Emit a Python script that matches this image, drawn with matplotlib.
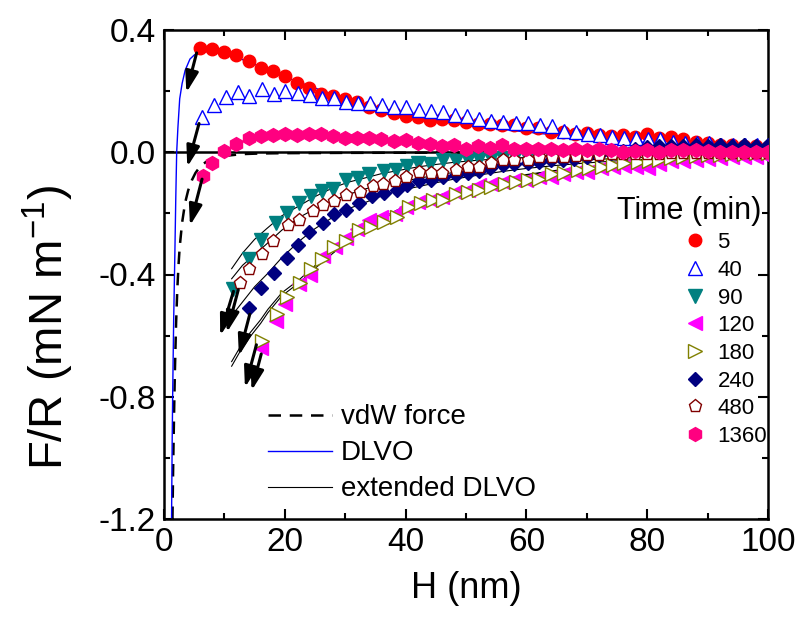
import matplotlib
matplotlib.use("Agg")
import matplotlib.pyplot as plt
from matplotlib.lines import Line2D
from matplotlib.ticker import MultipleLocator, FormatStrFormatter

plt.rcParams['font.family'] = ['Liberation Sans', 'DejaVu Sans']
plt.rcParams['mathtext.fontset'] = 'custom'
plt.rcParams['mathtext.rm'] = 'Liberation Sans'
plt.rcParams['mathtext.it'] = 'Liberation Sans:italic'
plt.rcParams['axes.unicode_minus'] = False

# ---------------- measured force curves (H in nm, F/R in mN/m) ----------------
times = ['5', '40', '90', '120', '180', '240', '480', '1360']

h_5 = [6, 8, 10, 12, 14, 16, 18, 20, 22, 24, 26, 28, 30, 32, 34, 36, 38, 40, 42, 44,
       46, 48, 50, 52, 54, 56, 58, 60, 62, 64, 66, 68, 70, 72, 74, 76, 78, 80, 82, 84,
       86, 88, 90, 92, 94, 96, 98, 100]
f_5 = [0.340, 0.339, 0.329, 0.318, 0.298, 0.276, 0.266, 0.249, 0.227, 0.209, 0.192,
       0.184, 0.173, 0.165, 0.149, 0.138, 0.127, 0.118, 0.116, 0.107, 0.110, 0.105,
       0.099, 0.094, 0.094, 0.089, 0.089, 0.080, 0.078, 0.067, 0.066, 0.061, 0.063,
       0.056, 0.052, 0.056, 0.050, 0.059, 0.045, 0.050, 0.042, 0.034, 0.030, 0.023,
       0.023, 0.020, 0.020, 0.018]

h_40 = [6.3, 8.3, 10.2, 12.2, 14.1, 16.2, 18.2, 20.1, 22.2, 24.2, 26.2, 28.1, 30.1,
        32.1, 34.1, 36.1, 38.1, 40.1, 42.2, 44.2, 46.2, 48.2, 50.2, 52.2, 54.2, 56.2,
        58.2, 60.2, 62.2, 64.2, 66.2, 68.2, 70.2, 72.2, 74.2, 76.2, 78.2, 80.2, 82.2,
        84.2, 86.2, 88.2, 90.2, 92.2, 94.2, 96.2, 98.2, 100]
f_40 = [0.116, 0.154, 0.181, 0.198, 0.184, 0.206, 0.190, 0.201, 0.194, 0.187, 0.176,
        0.176, 0.165, 0.162, 0.160, 0.154, 0.149, 0.147, 0.138, 0.135, 0.132, 0.121,
        0.118, 0.110, 0.103, 0.099, 0.096, 0.096, 0.089, 0.085, 0.070, 0.067, 0.061,
        0.056, 0.050, 0.045, 0.045, 0.042, 0.042, 0.034, 0.029, 0.029, 0.029, 0.023,
        0.023, 0.023, 0.023, 0.021]

h_90 = [11.5, 14, 16, 18.5, 20.3, 22.4, 24.3, 26.2, 28, 30.2, 32.1, 34, 36.5, 38.4,
        40.3, 42.1, 44.1, 46.2, 48.3, 50.3, 52.2, 54.1, 56.1, 58.1, 60.1, 62, 64, 66,
        68, 70, 72, 74, 76, 78, 80, 82, 84, 86, 88, 90, 92, 94, 96, 98, 100]
f_90 = [-0.447, -0.349, -0.287, -0.230, -0.200, -0.167, -0.144, -0.127, -0.119, -0.090,
        -0.083, -0.072, -0.061, -0.057, -0.046, -0.035, -0.037, -0.026, -0.028, -0.024,
        -0.022, -0.021, -0.018, -0.016, -0.014, -0.013, -0.012, -0.011, -0.010, -0.010,
        -0.009, -0.008, -0.008, -0.007, -0.007, -0.006, -0.006, -0.005, -0.005, -0.005,
        -0.004, -0.004, -0.004, -0.003, -0.003]

h_120 = [16.1, 18.5, 20.1, 22.4, 24.2, 26.4, 28.3, 30.2, 31.9, 34, 36, 38.2, 40, 42,
         44.2, 46, 48.1, 50.3, 52.2, 54.2, 56.1, 58, 60, 62.1, 64.1, 66, 68.2, 70.1,
         72.3, 74.3, 76.2, 78.2, 80.2, 82, 84, 86, 88, 90, 92, 94, 96, 98, 100]
f_120 = [-0.642, -0.551, -0.497, -0.432, -0.403, -0.338, -0.310, -0.280, -0.250, -0.223,
         -0.212, -0.201, -0.179, -0.164, -0.155, -0.146, -0.130, -0.125, -0.108, -0.103,
         -0.097, -0.090, -0.090, -0.081, -0.081, -0.070, -0.065, -0.065, -0.050, -0.047,
         -0.045, -0.048, -0.050, -0.040, -0.030, -0.030, -0.026, -0.022, -0.020, -0.017,
         -0.016, -0.015, -0.014]

h_180 = [16.3, 18.7, 20.4, 22.5, 24.4, 26.1, 28.1, 30.2, 32.3, 34.3, 36.4, 38.5, 40.5,
         42.6, 44.5, 46.2, 48.4, 50.3, 52.2, 54.2, 56.4, 58.3, 60.2, 62.1, 64.3, 66.3,
         68.5, 70.4, 72.5, 74.3, 76.2, 78.4, 80.3, 82, 84, 86, 88, 90, 92, 94, 96, 98, 100]
f_180 = [-0.616, -0.529, -0.473, -0.429, -0.381, -0.349, -0.310, -0.289, -0.254, -0.245,
         -0.228, -0.212, -0.178, -0.166, -0.157, -0.157, -0.136, -0.130, -0.125, -0.114,
         -0.103, -0.097, -0.090, -0.086, -0.070, -0.068, -0.057, -0.053, -0.048, -0.043,
         -0.035, -0.032, -0.028, -0.025, -0.020, -0.015, -0.013, -0.010, -0.008, -0.006,
         -0.005, -0.004, -0.003]

h_240 = [14.1, 16, 18.2, 20.3, 22.2, 24, 26.3, 28.1, 30.1, 32.3, 34.5, 36.5, 38.5, 40.3,
         42.3, 44.2, 46.2, 48.3, 50.3, 52.1, 54, 56.1, 58, 60.2, 62.1, 64.1, 66, 67.9,
         70, 72, 74, 76, 78, 80, 82, 84, 86, 88, 90, 92, 94, 96, 98, 100]
f_240 = [-0.511, -0.445, -0.396, -0.345, -0.302, -0.261, -0.232, -0.203, -0.188, -0.166,
         -0.144, -0.133, -0.122, -0.108, -0.094, -0.090, -0.081, -0.075, -0.068, -0.060,
         -0.053, -0.043, -0.037, -0.035, -0.032, -0.026, -0.024, -0.021, -0.015, -0.010,
         -0.003, 0.005, 0.012, 0.018, 0.020, 0.022, 0.020, 0.023, 0.021, 0.023, 0.022,
         0.023, 0.022, 0.023]

h_480 = [12.6, 14.1, 16.3, 18.1, 20.5, 22.3, 24.6, 26.3, 28.1, 30.1, 32.4, 34.6, 36.3,
         38.2, 40.1, 42.2, 44.2, 46.1, 48.3, 50.3, 52.1, 54.2, 56.1, 58, 60.2, 62.1, 64.3,
         66.3, 68.2, 70.1, 72.1, 74.2, 76, 78, 80, 82, 84, 86, 88, 90, 92, 94, 96, 98, 100]
f_480 = [-0.427, -0.381, -0.332, -0.291, -0.239, -0.223, -0.192, -0.174, -0.161, -0.141,
         -0.130, -0.111, -0.103, -0.094, -0.080, -0.066, -0.068, -0.067, -0.057, -0.048,
         -0.048, -0.035, -0.024, -0.024, -0.024, -0.017, -0.017, -0.015, -0.012, -0.010,
         -0.008, -0.006, -0.006, -0.005, -0.006, -0.005, -0.004, -0.004, -0.003, -0.004,
         -0.003, -0.003, -0.002, -0.002, -0.002]

h_1360 = [6.5, 8, 10, 12, 14, 16, 18, 20, 22, 24, 26, 28, 30, 32, 34, 36, 38, 40, 42, 44,
          46, 48, 50, 52, 54, 56, 58, 60, 62, 64, 66, 68, 70, 72, 74, 76, 78, 80, 82, 84,
          86, 88, 90, 92, 94, 96, 98, 100]
f_1360 = [-0.077, -0.035, 0.004, 0.026, 0.048, 0.052, 0.056, 0.061, 0.056, 0.061, 0.059,
          0.052, 0.047, 0.048, 0.048, 0.042, 0.037, 0.039, 0.030, 0.026, 0.020, 0.023,
          0.012, 0.020, 0.015, 0.023, 0.009, 0.009, 0.012, 0.012, 0.007, 0.009, 0.007,
          0.012, 0.007, 0.001, 0.004, 0.007, 0.001, 0.007, 0.007, 0.007, 0.004, 0.001,
          0.001, 0.001, 0.001, 0.000]

# ---------------- model curves ----------------
h_vdw = [1.4, 1.5, 1.6, 1.7, 1.8, 2.0, 2.2, 2.4, 2.6, 3.0, 3.5, 4.0, 4.6, 5.2, 6.0, 7.0,
         8.0, 10, 13, 16, 20, 30, 50, 100]
f_vdw = [-1.2, -1.05, -0.93, -0.82, -0.72, -0.56, -0.45, -0.37, -0.31, -0.23, -0.165,
         -0.125, -0.092, -0.068, -0.046, -0.031, -0.022, -0.012, -0.006, -0.004, -0.003,
         -0.002, -0.001, 0.0]

h_dlvo = [1.25, 1.35, 1.45, 1.6, 1.8, 1.95, 2.1, 2.3, 2.6, 3.0, 3.5, 4.3, 5.0, 5.7, 7.0,
          8.5, 10, 12.5, 16, 19, 22, 25, 28, 31, 35, 40, 45, 50, 56, 62, 68, 74, 80, 88, 100]
f_dlvo = [-1.2, -0.95, -0.77, -0.55, -0.33, -0.15, 0.0, 0.08, 0.175, 0.225, 0.268, 0.305,
          0.318, 0.324, 0.329, 0.327, 0.320, 0.307, 0.280, 0.255, 0.232, 0.210, 0.189,
          0.170, 0.149, 0.126, 0.107, 0.092, 0.075, 0.062, 0.050, 0.040, 0.032, 0.024, 0.017]

h_ext = [11.2, 13, 15, 17, 19.5, 22.5, 25, 28, 30.5, 33.5, 36, 39, 42, 45, 48, 52, 56,
         60, 65, 70, 75, 80, 90, 100]
f_ext_90 = [-0.381, -0.330, -0.285, -0.250, -0.208, -0.174, -0.145, -0.116, -0.098,
            -0.083, -0.070, -0.059, -0.048, -0.040, -0.033, -0.026, -0.021, -0.017,
            -0.013, -0.010, -0.008, -0.006, -0.004, -0.003]
f_ext_480 = [-0.414, -0.370, -0.335, -0.300, -0.255, -0.212, -0.185, -0.157, -0.138,
             -0.119, -0.107, -0.097, -0.086, -0.075, -0.066, -0.055, -0.046, -0.039,
             -0.031, -0.025, -0.020, -0.016, -0.011, -0.008]
f_ext_240 = [-0.535, -0.490, -0.440, -0.400, -0.345, -0.289, -0.250, -0.212, -0.185,
             -0.163, -0.143, -0.125, -0.113, -0.100, -0.088, -0.075, -0.063, -0.053,
             -0.043, -0.035, -0.028, -0.023, -0.015, -0.010]

h_ext2 = [11.2, 12.5, 14.2, 16, 17.2, 19.5, 22.5, 25, 28, 30.5, 33.5, 36, 39, 42, 44.5,
          47, 50, 55, 60, 65, 70, 75, 80, 85, 90, 95, 100]
f_ext_120 = [-0.700, -0.655, -0.605, -0.560, -0.525, -0.470, -0.425, -0.380, -0.330,
             -0.290, -0.250, -0.220, -0.190, -0.165, -0.150, -0.135, -0.120, -0.095,
             -0.075, -0.060, -0.050, -0.040, -0.032, -0.025, -0.019, -0.014, -0.010]
f_ext_180 = [-0.685, -0.641, -0.592, -0.548, -0.514, -0.460, -0.415, -0.371, -0.322,
             -0.283, -0.244, -0.215, -0.185, -0.161, -0.146, -0.132, -0.117, -0.093,
             -0.073, -0.059, -0.049, -0.039, -0.031, -0.024, -0.018, -0.013, -0.009]

# jump-in arrows: (H start, F start, H end, F end)
jumps = [(5.4, 0.325, 3.7, 0.195),
         (5.8, 0.094, 3.85, -0.048),
         (6.3, -0.088, 4.3, -0.24),
         (11.5, -0.455, 9.3, -0.60),
         (12.3, -0.450, 10.4, -0.59),
         (14.2, -0.530, 12.4, -0.666),
         (15.3, -0.630, 13.4, -0.77),
         (16.1, -0.660, 14.5, -0.78)]

# ---------------- figure ----------------
W, H = 803, 625
fig = plt.figure(figsize=(W / 100, H / 100), dpi=100)
ax = fig.add_axes([164 / W, 1 - 519 / H, (768 - 164) / W, (519 - 30) / H])

ax.axhline(0, color='black', lw=1.8, zorder=1)

dash = (0, (5, 3.5))
ax.plot(h_vdw, f_vdw, color='black', lw=1.8, ls=dash, zorder=2)
ax.plot(h_dlvo, f_dlvo, color='#0000FF', lw=1.0, zorder=2)
ext_lines = [(h_ext, f_ext_90), (h_ext, f_ext_480), (h_ext, f_ext_240),
             (h_ext2, f_ext_120), (h_ext2, f_ext_180)]
for hx, fx in ext_lines:
    ax.plot(hx, fx, color='black', lw=0.8, zorder=2)

styles = [
    (h_5, f_5, dict(marker='o', mfc='#FF0000', mec='#FF0000', ms=9)),
    (h_40, f_40, dict(marker='^', mfc='white', mec='#0000FF', ms=9.5)),
    (h_90, f_90, dict(marker='v', mfc='#008080', mec='#008080', ms=9.5)),
    (h_120, f_120, dict(marker='<', mfc='#FF00FF', mec='#FF00FF', ms=9.5)),
    (h_180, f_180, dict(marker='>', mfc='white', mec='#808000', ms=9.5)),
    (h_240, f_240, dict(marker='D', mfc='#000080', mec='#000080', ms=7)),
    (h_480, f_480, dict(marker='p', mfc='white', mec='#800000', ms=9.5)),
    (h_1360, f_1360, dict(marker='h', mfc='#FF0080', mec='#FF0080', ms=10)),
]
series_handles = []
for (hx, fx, st), lab in zip(styles, times):
    ln, = ax.plot(hx, fx, ls='none', mew=1.0, zorder=3, label=lab, **st)
    series_handles.append(ln)

for h0, f0, h1, f1 in jumps:
    ax.annotate('', xy=(h1, f1), xytext=(h0, f0),
                arrowprops=dict(arrowstyle='-|>,head_length=0.9,head_width=0.28',
                                color='black', lw=2.2, mutation_scale=14,
                                shrinkA=0, shrinkB=0),
                zorder=4)

ax.set_xlim(0, 100)
ax.set_ylim(-1.2, 0.4)
ax.xaxis.set_major_locator(MultipleLocator(20))
ax.xaxis.set_minor_locator(MultipleLocator(10))
ax.yaxis.set_major_locator(MultipleLocator(0.4))
ax.yaxis.set_minor_locator(MultipleLocator(0.2))
ax.yaxis.set_major_formatter(FormatStrFormatter('%.1f'))
ax.tick_params(which='both', direction='in', top=True, right=True, width=1.5)
ax.tick_params(which='major', length=7, labelsize=24, pad=6)
ax.tick_params(which='minor', length=4)
for sp in ax.spines.values():
    sp.set_linewidth(1.8)

fig.text(466 / W, 1 - 588 / H, 'H (nm)', ha='center', va='center', fontsize=26)
fig.text(48 / W, 1 - 327 / H, 'F/R (mN m$^{-1}$)', ha='center', va='center',
         rotation=90, fontsize=34)

# time legend: title placed on its own, entries underneath
fig.text(617 / W, 1 - 211 / H, 'Time (min)', ha='left', va='center', fontsize=22)
leg1 = ax.legend(handles=series_handles, labels=times,
                 loc='upper left', bbox_to_anchor=(682 / W, 1 - 230 / H),
                 bbox_transform=fig.transFigure, frameon=False, fontsize=16,
                 handlelength=1.0, handletextpad=0.5, labelspacing=0.3,
                 borderpad=0.1, borderaxespad=0)
ax.add_artist(leg1)

model_handles = [Line2D([], [], color='black', lw=1.8, ls=dash),
                 Line2D([], [], color='#0000FF', lw=1.0),
                 Line2D([], [], color='black', lw=0.8)]
ax.legend(handles=model_handles, labels=['vdW force', 'DLVO', 'extended DLVO'],
          loc='lower left', bbox_to_anchor=(265 / W, 1 - 505 / H),
          bbox_transform=fig.transFigure, frameon=False, fontsize=20,
          handlelength=2.3, handletextpad=0.32, labelspacing=0.36, borderpad=0.1,
          borderaxespad=0)

fig.savefig('out.png', dpi=100)
